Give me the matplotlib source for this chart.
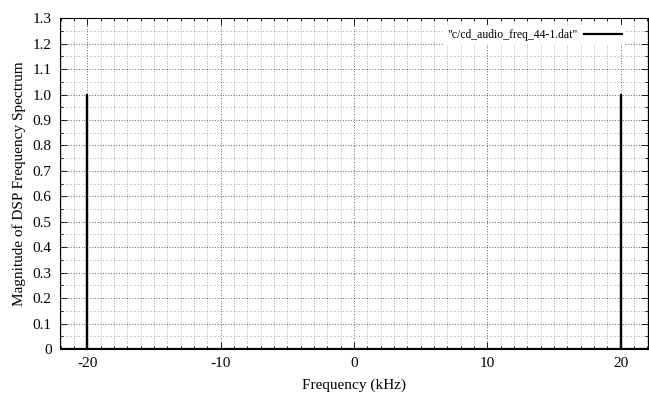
import matplotlib
matplotlib.use('Agg')
import matplotlib.pyplot as plt
from matplotlib.ticker import MultipleLocator

# スペクトルのデータ (kHz, 振幅)
freq_khz = [-22.05, -20.0, -20.0, -20.0, 20.0, 20.0, 20.0, 22.05]
magnitude = [0.0, 0.0, 1.0, 0.0, 0.0, 1.0, 0.0, 0.0]
series_label = '"c/cd_audio_freq_44-1.dat"'

plt.rcParams['font.family'] = ['Liberation Serif', 'DejaVu Serif']
plt.rcParams['font.size'] = 11
plt.rcParams['axes.unicode_minus'] = False

fig = plt.figure(figsize=(6.49, 3.95), dpi=100)
ax = fig.add_axes([0.0925, 0.1165, 0.906, 0.8375])

ax.plot(freq_khz, magnitude, color='black', lw=1.6, label=series_label)

ax.set_xlim(-22.05, 22.05)
ax.set_ylim(0, 1.3)
ax.xaxis.set_major_locator(MultipleLocator(10))
ax.xaxis.set_minor_locator(MultipleLocator(1))
ax.yaxis.set_major_locator(MultipleLocator(0.1))
ax.yaxis.set_minor_locator(MultipleLocator(0.05))
ax.yaxis.set_major_formatter(plt.FuncFormatter(lambda v, p: '0' if abs(v) < 1e-9 else f'{v:.1f}'))

ax.tick_params(which='both', direction='in', top=True, right=True, width=0.6)
ax.tick_params(which='major', length=5, labelsize=11, pad=6)
ax.tick_params(which='minor', length=2.5)

# グリッド (点線)
ax.grid(which='major', ls=(0, (0.8, 2.4)), color='black', lw=0.6)
ax.grid(which='minor', ls=(0, (0.8, 2.4)), color='#777777', lw=0.6)
ax.set_axisbelow(True)

for s in ax.spines.values():
    s.set_linewidth(0.8)

ax.set_xlabel('Frequency (kHz)', fontsize=11, labelpad=6)
ax.set_ylabel('Magnitude of DSP Frequency Spectrum', fontsize=11, labelpad=5)

leg = ax.legend(loc='upper right', markerfirst=False, frameon=True, fontsize=8.5,
                handlelength=3.2, handletextpad=0.5,
                bbox_to_anchor=(0.965, 0.985), borderaxespad=0.2, borderpad=0.3)
leg.get_frame().set_edgecolor('none')
leg.get_frame().set_facecolor('white')
leg.get_frame().set_alpha(1)
leg.get_frame().set_boxstyle('square', pad=0)

fig.savefig('out.png', dpi=100)
